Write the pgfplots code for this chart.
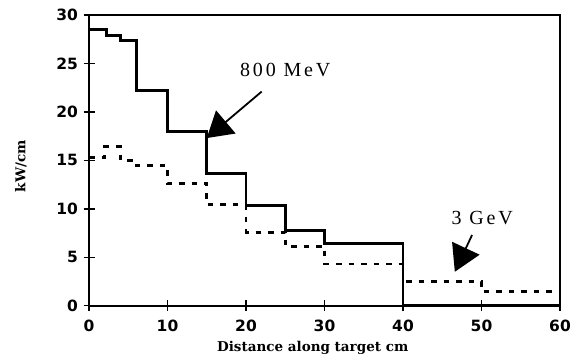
\documentclass[border=0pt]{standalone}
\usepackage{fontspec}
\setmainfont{Liberation Serif}
\newfontfamily\ticksfont{DejaVu Sans}
\newfontfamily\labelfont{DejaVu Serif}
\newfontfamily\annfont[LetterSpace=14]{Liberation Serif}
\usepackage{pgfplots}
\pgfplotsset{compat=1.18}
\usetikzlibrary{arrows.meta}

\begin{document}
\begin{tikzpicture}
\begin{axis}[
  scale only axis,
  width=471bp, height=290.7bp,
  xmin=0, xmax=60, ymin=0, ymax=30,
  xtick={0,10,...,60}, ytick={0,5,...,30},
  xtick pos=bottom, ytick pos=left,
  tick align=center,
  major tick length=11bp,
  every tick/.style={black, line width=1.4bp},
  axis line style={line width=1.6bp},
  /pgf/number format/assume math mode=true,
  tick label style={font=\ticksfont\bfseries\fontsize{15.5bp}{17bp}\selectfont},
  xticklabel style={yshift=-5bp},
  yticklabel style={xshift=-2bp},
  xlabel={Distance along target cm},
  ylabel={kW/cm},
  label style={font=\labelfont\bfseries\fontsize{13.5bp}{15bp}\selectfont},
  xlabel style={at={(axis description cs:0.475,0)}, anchor=base, yshift=-46bp},
  ylabel style={at={(axis description cs:-0.1444,0.48)}, anchor=center},
  clip=false,
]
% 800 MeV beam
\addplot[black, line width=2.9bp, const plot mark left] coordinates {
  (0,28.5) (2.2,27.9) (4,27.4) (6,22.2) (10,18.0) (15,13.6)
  (20,10.3) (25,7.8) (30,6.4) (40,0) (60,0)
};
% 3 GeV beam
\addplot[black, line width=2.9bp, dash pattern=on 5.5bp off 7bp, const plot mark left] coordinates {
  (0,15.3) (2,16.4) (4,15.0) (6,14.5) (10,12.6) (15,10.4)
  (20,7.6) (25,6.1) (30,4.3) (40,2.5) (50,1.5) (60,1.5)
};
\node[font=\annfont\fontsize{20bp}{22bp}\selectfont] at (axis cs:25.0,24.3) {800 MeV};
\draw[line width=1.8bp, -{Triangle[length=25bp,width=30bp]}] (axis cs:22.0,22.1) -- (axis cs:15.0,17.3);
\node[font=\annfont\fontsize{20bp}{22bp}\selectfont] at (axis cs:50.1,9.0) {3 GeV};
\draw[line width=1.8bp, -{Triangle[length=26bp,width=30bp]}] (axis cs:48.8,7.3) -- (axis cs:46.6,3.5);
\end{axis}
\pgfresetboundingbox
\path ([shift={(-89bp,-50.3bp)}]current axis.south west) rectangle ([shift={(19bp,15bp)}]current axis.north east);
\end{tikzpicture}
\end{document}
